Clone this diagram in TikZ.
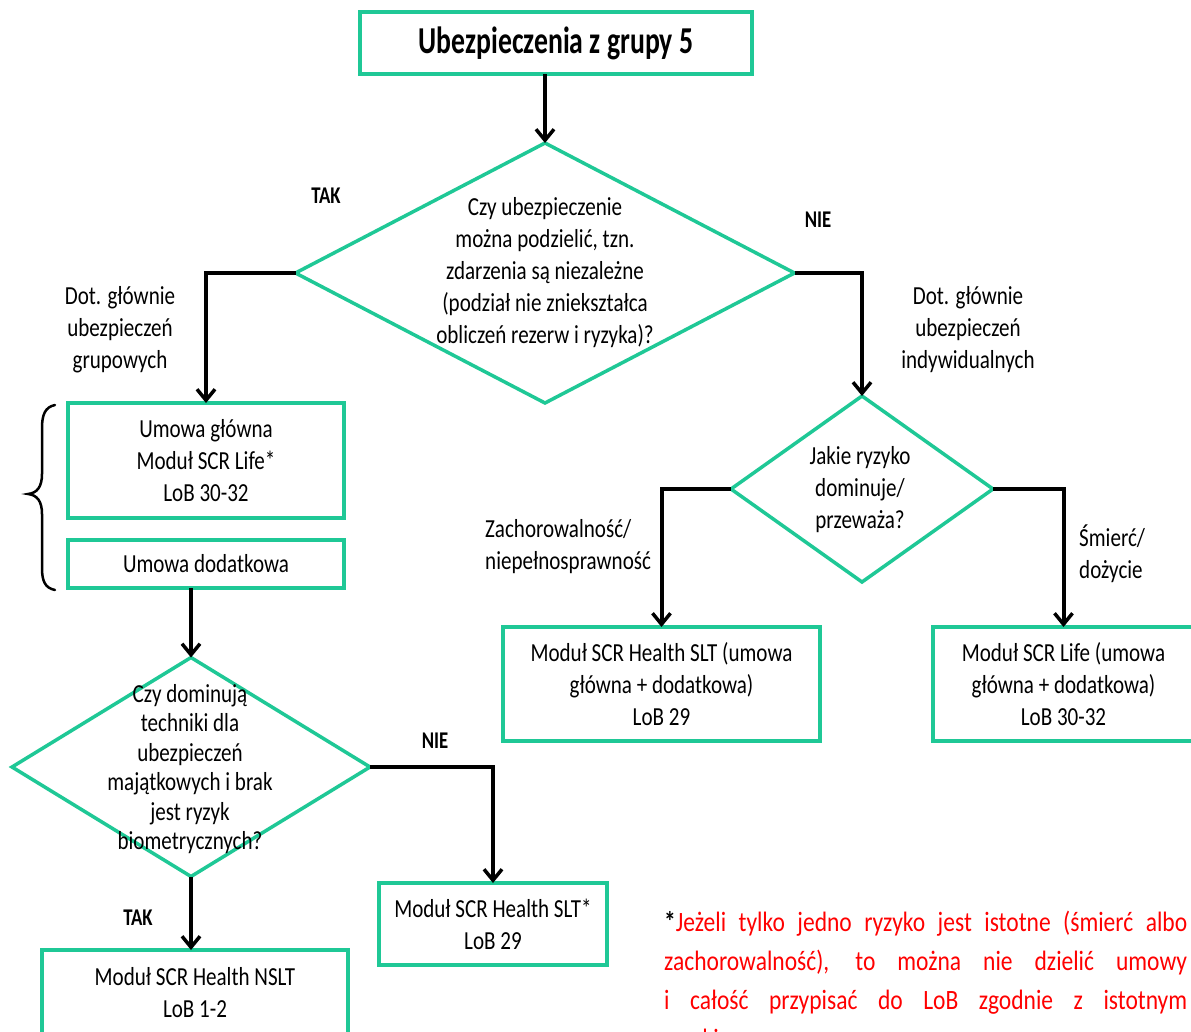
\documentclass[tikz,border=0pt]{standalone}
\usepackage{fontspec}
\setmainfont{Carlito}[FakeStretch=0.81]
\newfontfamily\titlefont{Carlito}[FakeStretch=0.73]
\newfontfamily\labelfont{Carlito}[FakeStretch=0.78]
\newfontfamily\notefont{Carlito}[FakeStretch=0.84]
\usetikzlibrary{shapes.geometric,arrows.meta}
\definecolor{boxgreen}{HTML}{1FC896}
\definecolor{notered}{HTML}{FF0000}
\begin{document}
\begin{tikzpicture}[x=1pt,y=-1pt,
  txt/.style={font=\fontsize{26}{32}\selectfont, align=center, inner sep=0pt},
  box/.style={draw=boxgreen, line width=3.5pt, rectangle, outer sep=0pt,
    inner sep=0pt, align=center, font=\fontsize{26}{32}\selectfont},
  dia/.style={draw=boxgreen, line width=3.5pt, diamond, inner sep=0pt,
    outer sep=0pt, shape aspect=1},
  conn/.style={draw=black, line width=4pt},
  arr/.style={conn, -{Straight Barb[length=11pt,width=18pt,line width=3.5pt]}},
  yesno/.style={font=\labelfont\bfseries\fontsize{24}{28}\selectfont, inner sep=0pt},
  brc/.style={draw=black, line width=2.5pt, line cap=round}]
\useasboundingbox (0,0) rectangle (1191,1031);
\clip (0,0) rectangle (1191,1031);
\fill[white] (0,0) rectangle (1191,1031);

% top box
\node[box, minimum width=392pt, minimum height=62pt,
  font=\titlefont\bfseries\fontsize{38}{40}\selectfont] (title) at (556,43)
  {Ubezpieczenia z grupy 5};

% first decision
\node[dia, minimum width=499pt, minimum height=260pt] (d1) at (545,273) {};
\node[txt] (d1t) at (545,273) {Czy ubezpieczenie\\ można podzielić, tzn.\\ zdarzenia są niezależne\\ (podział nie zniekształca\\ obliczeń rezerw i ryzyka)?};

% group branch
\node[box, minimum width=276pt, minimum height=115pt] (main) at (206,460.5)
  {Umowa główna\\ Moduł SCR Life*\\ LoB 30-32};
\node[box, minimum width=276pt, minimum height=48pt] (add) at (206,564)
  {Umowa dodatkowa};

\node[dia, minimum width=358pt, minimum height=219pt] (d3) at (191,767) {};
\node[txt, font=\fontsize{26}{29.5}\selectfont] (d3t) at (190,769)
  {Czy dominują\\ techniki dla\\ ubezpieczeń\\ majątkowych i brak\\ jest ryzyk\\ biometrycznych?};

\node[box, minimum width=306pt, minimum height=86pt] (nslt) at (195,993)
  {Moduł SCR Health NSLT\\ LoB 1-2};
\node[box, minimum width=228pt, minimum height=82pt] (slts) at (493,924)
  {Moduł SCR Health SLT*\\ LoB 29};

% individual branch
\node[dia, minimum width=262pt, minimum height=186pt] (d2) at (862,489) {};
\node[txt] (d2t) at (860,490) {Jakie ryzyko\\ dominuje/\\ przeważa?};

\node[box, minimum width=317pt, minimum height=114pt] (hslt) at (661.5,684)
  {Moduł SCR Health SLT (umowa\\ główna + dodatkowa)\\ LoB 29};
\node[box, minimum width=261pt, minimum height=114pt] (life) at (1063.5,684)
  {Moduł SCR Life (umowa\\ główna + dodatkowa)\\ LoB 30-32};

% connectors
\draw[arr] (title.south -| d1.north) -- (d1.north);
\draw[arr] (d1.west) -| (main.north);
\draw[arr] (d1.east) -| (d2.north);
\draw[arr] (add.south -| d3.north) -- (d3.north);
\draw[arr] (d3.east) -| (slts.north);
\draw[arr] (d3.south) -- (d3.south |- nslt.north);
\draw[arr] (d2.west) -| (hslt.north);
\draw[arr] (d2.east) -| (life.north);

% branch labels
\node[yesno] (tak1) at (326,196) {TAK};
\node[yesno] (nie1) at (818,220) {NIE};
\node[yesno] (nie2) at (435,741) {NIE};
\node[yesno] (tak2) at (138,918) {TAK};
\node[txt] (grp) at (120,330) {Dot. głównie\\ ubezpieczeń\\ grupowych};
\node[txt] (ind) at (968,330) {Dot. głównie\\ ubezpieczeń\\ indywidualnych};
\node[txt, align=left, anchor=west] (zach) at (485,547)
  {Zachorowalność/\\ niepełnosprawność};
\node[txt, align=left, anchor=west] (smierc) at (1079,554)
  {Śmierć/\\ dożycie};

% brace grouping the two contract boxes
\draw[brc] (55,405) .. controls (45,407) and (42,415) .. (42,428)
  -- (42,474) .. controls (42,487) and (37,493) .. (28,494)
  .. controls (37,495) and (42,501) .. (42,514)
  -- (42,568) .. controls (42,581) and (45,588) .. (55,590);

% footnote
\node[inner sep=0pt, anchor=north west, align=left, text=notered,
  font=\notefont\fontsize{28}{39}\selectfont] (note) at (664,911)
  {\makebox[523pt][s]{\textcolor{black}{\bfseries*}Jeżeli tylko jedno ryzyko jest istotne (śmierć albo}\\
   \makebox[523pt][s]{zachorowalność), to można nie dzielić umowy}\\
   \makebox[523pt][s]{i całość przypisać do LoB zgodnie z istotnym}\\
   ryzykiem.};
\end{tikzpicture}
\end{document}
